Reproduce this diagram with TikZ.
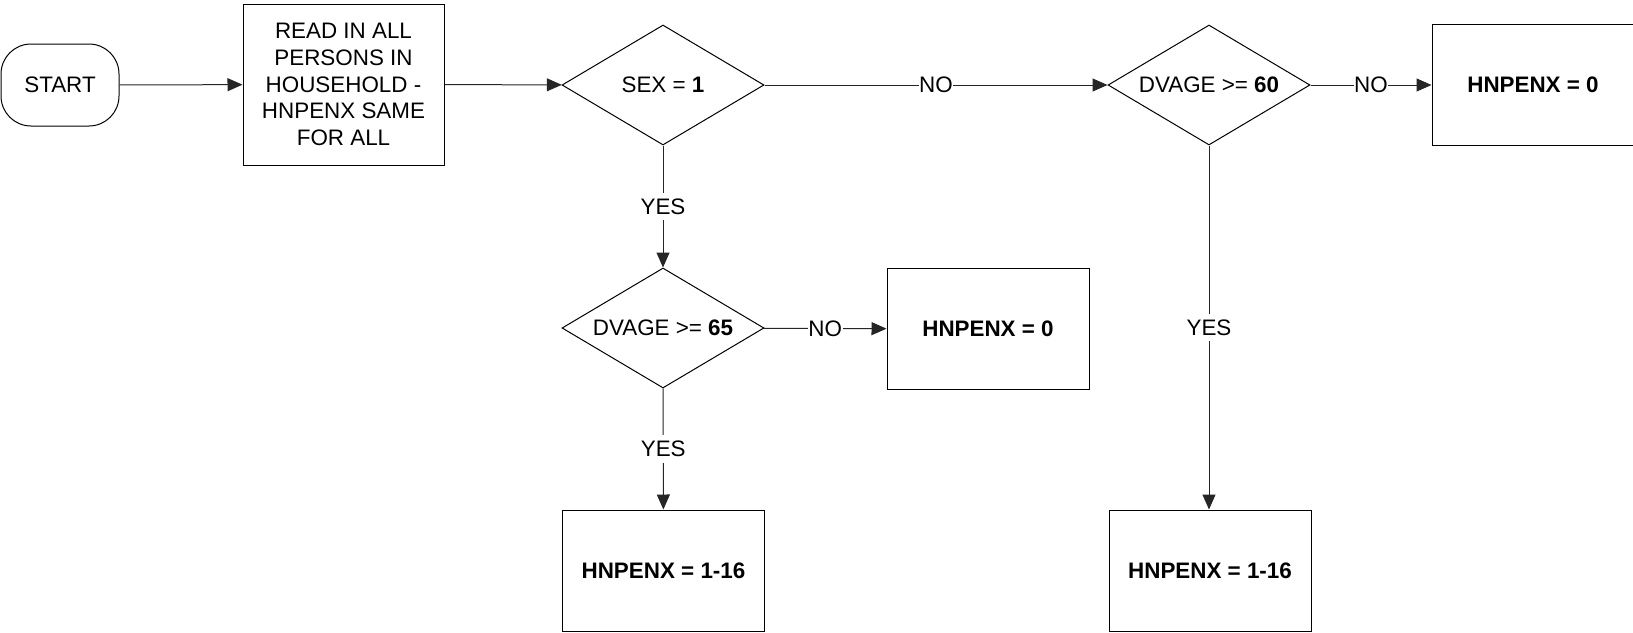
\documentclass[tikz,border=0pt]{standalone}
\usepackage{fontspec}
\setmainfont{Liberation Sans}
\usetikzlibrary{shapes.geometric,arrows.meta}
\begin{document}
\begin{tikzpicture}[x=1pt,y=-1pt,
  every node/.style={font=\fontsize{22.4}{26.7}\selectfont, inner sep=0pt},
  box/.style={draw, line width=1pt, minimum width=202pt, minimum height=121pt, align=center},
  dec/.style={draw, diamond, aspect=1.683, minimum width=202pt, minimum height=120pt, line width=1pt},
  term/.style={draw, rounded corners=30pt, minimum width=118pt, minimum height=82pt, line width=1pt},
  conn/.style={line width=1pt, black!85, -{Triangle[length=15pt,width=13pt]}},
  lbl/.style={fill=white, text=black, inner xsep=0.5pt, inner ysep=6pt}]
\useasboundingbox (0,0) rectangle (1633,632);
\node[term] (start) at (60,85) {START};
\node[box, minimum width=201pt, minimum height=161pt] (read) at (343.5,84.5)
  {READ IN ALL\\PERSONS IN\\HOUSEHOLD -\\HNPENX SAME\\FOR ALL};
\node[dec] (sex) at (663,85) {SEX = \textbf{1}};
\node[dec] (d60) at (1209,85) {DVAGE >= \textbf{60}};
\node[box] (h0a) at (1533,85) {\textbf{HNPENX = 0}};
\node[dec] (d65) at (663,328) {DVAGE >= \textbf{65}};
\node[box] (h0b) at (988,329) {\textbf{HNPENX = 0}};
\node[box] (h16a) at (663.5,570.5) {\textbf{HNPENX = 1-16}};
\node[box] (h16b) at (1210,570.5) {\textbf{HNPENX = 1-16}};
\draw[conn] (start) -- (read);
\draw[conn] (read) -- (sex);
\draw[conn] (sex) -- node[lbl]{NO} (d60);
\draw[conn] (d60) -- node[lbl]{NO} (h0a);
\draw[conn] (sex) -- node[lbl]{YES} (d65);
\draw[conn] (d65) -- node[lbl]{NO} (h0b);
\draw[conn] (d65) -- node[lbl]{YES} (h16a);
\draw[conn] (d60) -- node[lbl]{YES} (d60 |- h16b.north);
\end{tikzpicture}
\end{document}
